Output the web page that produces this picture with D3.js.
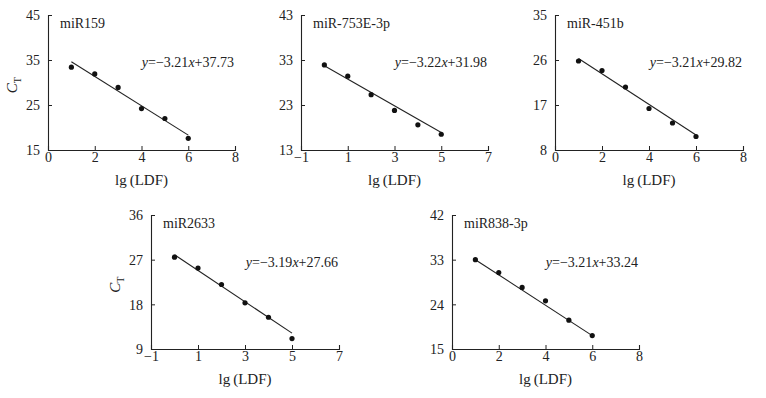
<!DOCTYPE html>
<html>
<head>
<meta charset="utf-8">
<script src="https://cdn.jsdelivr.net/npm/d3@7"></script>
<style>
  body { margin: 0; background: #fff; }
  svg text { font-family: "Liberation Serif", "DejaVu Serif", serif; fill: #222; }
</style>
</head>
<body>
<div id="container"></div>
<script>
const panelNames = ["miR159", "miR-753E-3p", "miR-451b", "miR2633", "miR838-3p"];
const slopes = ["3.21", "3.22", "3.21", "3.19", "3.21"];
const intercepts = ["37.73", "31.98", "29.82", "27.66", "33.24"];

const lgLDF = [
    [1, 2, 3, 4, 5, 6],
    [0, 1, 2, 3, 4, 5],
    [1, 2, 3, 4, 5, 6],
    [0, 1, 2, 3, 4, 5],
    [1, 2, 3, 4, 5, 6]
];
const ctValues = [
    [33.4, 31.9, 28.9, 24.2, 22.0, 17.6],
    [31.9, 29.4, 25.3, 21.8, 18.6, 16.5],
    [25.8, 23.9, 20.6, 16.3, 13.4, 10.7],
    [27.5, 25.3, 22.0, 18.3, 15.4, 11.1],
    [33.0, 30.4, 27.4, 24.7, 20.8, 17.7]
];
// fitted line ends as drawn (first and last x of each panel)
const fitStart = [34.6, 31.7, 26.3, 28.0, 33.0];
const fitEnd = [18.3, 16.9, 11.0, 12.2, 17.7];

const xDomains = [[0, 8], [-1, 7], [0, 8], [-1, 7], [0, 8]];
const xTicks = [[0, 2, 4, 6, 8], [-1, 1, 3, 5, 7], [0, 2, 4, 6, 8], [-1, 1, 3, 5, 7], [0, 2, 4, 6, 8]];
const yDomains = [[15, 45], [13, 43], [8, 35], [9, 36], [15, 42]];
const yTicks = [[15, 25, 35, 45], [13, 23, 33, 43], [8, 17, 26, 35], [9, 18, 27, 36], [15, 24, 33, 42]];
const showYLabel = [true, false, false, true, false];

// plot area for each panel: left, top, width, height
const boxes = [
    [48, 15, 187, 135],
    [301, 15, 187, 135],
    [555, 15, 188, 135],
    [151, 215, 188, 134],
    [452, 215, 187, 134]
];

const svg = d3.select("#container").append("svg")
    .attr("width", 766)
    .attr("height", 398);

const fmt = v => v < 0 ? "\u2212" + Math.abs(v) : String(v);

panelNames.forEach((name, i) => {
    const [left, top, w, h] = boxes[i];
    const g = svg.append("g").attr("transform", `translate(${left},${top})`);

    const x = d3.scaleLinear().domain(xDomains[i]).range([0, w]);
    const y = d3.scaleLinear().domain(yDomains[i]).range([h, 0]);

    const xAxis = g.append("g")
        .attr("transform", `translate(0,${h})`)
        .call(d3.axisBottom(x).tickValues(xTicks[i]).tickSize(-4).tickPadding(5).tickFormat(fmt));
    const yAxis = g.append("g")
        .call(d3.axisLeft(y).tickValues(yTicks[i]).tickSize(-4).tickPadding(8).tickFormat(fmt));

    [xAxis, yAxis].forEach(a => {
        a.select(".domain").attr("stroke", "#222").attr("stroke-width", 1.1);
        a.selectAll(".tick line").attr("stroke", "#222");
        a.selectAll(".tick text")
            .attr("fill", "#222")
            .style("font-family", "'Liberation Serif', serif")
            .style("font-size", "14px");
    });
    xAxis.selectAll(".tick text").attr("dy", "0.5em");
    yAxis.selectAll(".tick text").attr("dy", "0.35em");

    const xs = lgLDF[i];
    const ys = ctValues[i];

    g.append("line")
        .attr("x1", x(xs[0]))
        .attr("y1", y(fitStart[i]))
        .attr("x2", x(xs[xs.length - 1]))
        .attr("y2", y(fitEnd[i]))
        .attr("stroke", "#222")
        .attr("stroke-width", 1.1);

    g.selectAll("circle.pt")
        .data(xs.map((v, j) => [v, ys[j]]))
        .join("circle")
        .attr("class", "pt")
        .attr("cx", d => x(d[0]))
        .attr("cy", d => y(d[1]))
        .attr("r", 2.6)
        .attr("fill", "#111");

    g.append("text")
        .attr("x", 12)
        .attr("y", 13)
        .style("font-size", "14px")
        .text(name);

    const eq = g.append("text")
        .attr("x", w - 1)
        .attr("y", 52)
        .attr("text-anchor", "end")
        .style("font-size", "14px");
    eq.append("tspan").style("font-style", "italic").text("y");
    eq.append("tspan").text("=\u2212" + slopes[i]);
    eq.append("tspan").style("font-style", "italic").text("x");
    eq.append("tspan").text("+" + intercepts[i]);

    g.append("text")
        .attr("x", w / 2)
        .attr("y", h + 35)
        .attr("text-anchor", "middle")
        .style("font-size", "15px")
        .text("lg\u2009(LDF)");

    if (showYLabel[i]) {
        const yl = g.append("text")
            .attr("transform", `translate(-31,${h * 0.52}) rotate(-90)`)
            .attr("text-anchor", "middle")
            .style("font-size", "15px");
        yl.append("tspan").style("font-style", "italic").text("C");
        yl.append("tspan").attr("dy", 4).style("font-size", "10px").text("T");
    }
});
</script>
</body>
</html>
